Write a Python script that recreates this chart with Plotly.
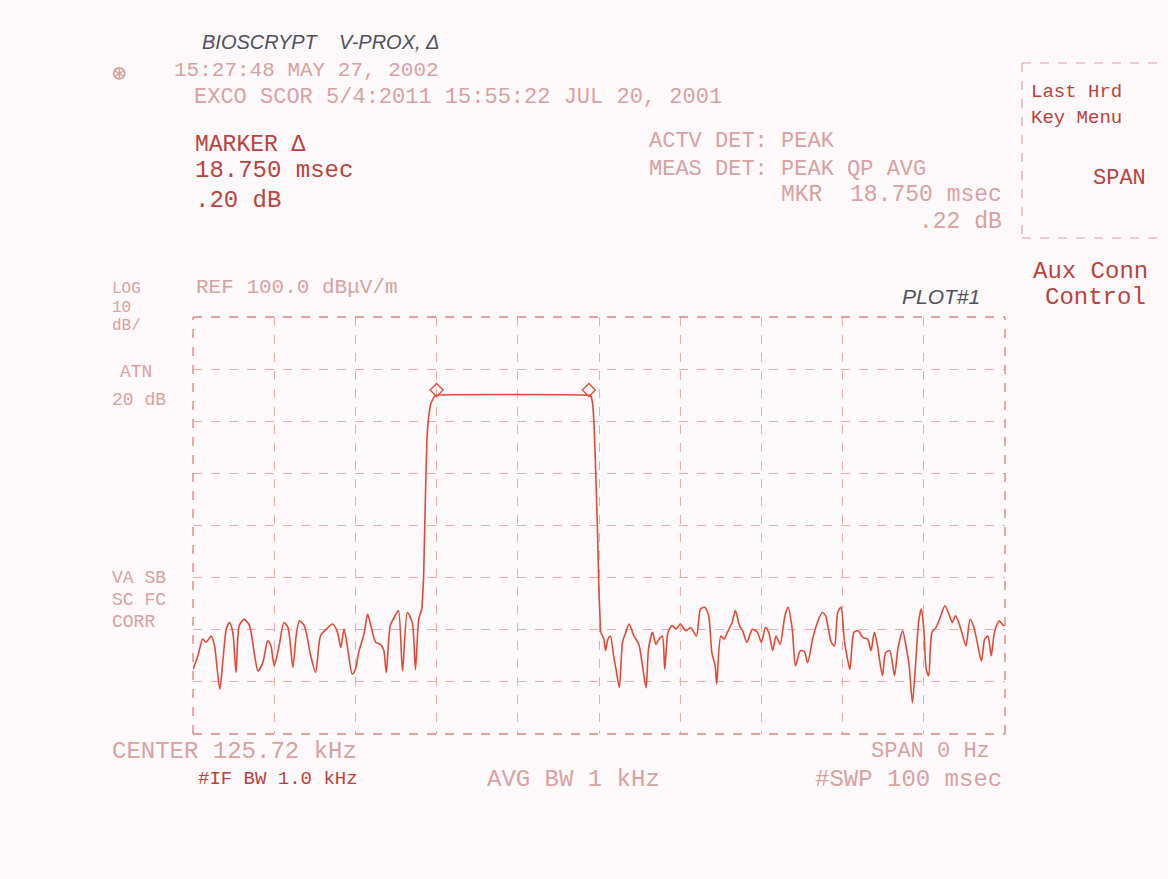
import plotly.graph_objects as go

# ---------------- data ----------------
# Left noise floor (ms, dBuV/m)
noise_left_ms = [0.0, 0.6, 1.2, 1.6, 2.25, 2.65, 3.3, 3.7, 4.1, 4.5, 4.9, 5.3, 5.7, 6.3, 6.95,
                 7.6, 8.0, 8.6, 9.2, 9.6, 10.0, 10.6, 11.2, 11.7, 12.3, 12.7, 13.1, 13.7, 14.5,
                 15.1, 15.7, 16.4, 17.2, 17.8, 18.2, 18.6, 19.0, 19.6, 20.0, 20.4, 21.1, 21.5,
                 21.9, 22.5, 23.1, 23.5, 23.8, 24.3, 24.9, 25.3, 25.8, 26.4, 27.0, 27.4, 27.8]
noise_left_db = [32.4, 35.0, 38.2, 37.6, 38.8, 36.9, 28.6, 34.4, 40.1, 41.4, 39.5, 31.8, 40.8, 42.0, 40.8,
                 35.0, 32.1, 33.7, 37.9, 36.9, 33.1, 36.9, 41.4, 40.4, 32.8, 38.8, 41.7, 40.8, 35.0,
                 31.8, 38.8, 40.1, 41.1, 39.5, 36.6, 40.1, 36.9, 31.5, 32.4, 35.6, 39.5, 43.0,
                 40.8, 37.6, 37.2, 36.0, 31.8, 40.8, 42.7, 43.7, 32.1, 43.3, 41.4, 32.4, 42.0]

# Pulse (rise, flat top, fall)
pulse_ms = [28.2, 28.4, 28.6, 28.8, 29.0, 29.3, 29.7, 30.0, 48.75, 49.0, 49.2, 49.4, 49.6, 49.8, 50.0]
pulse_db = [44.0, 50.0, 64.0, 76.0, 80.5, 83.4, 84.7, 85.0, 85.0, 84.8, 83.5, 79.0, 70.0, 60.0, 47.0]

# Right noise floor
noise_right_ms = [50.2, 50.6, 50.8, 51.1, 51.4, 51.8, 52.1, 52.5, 52.9, 53.3, 53.7, 54.3, 54.9, 55.3,
                  55.8, 56.1, 56.6, 57.0, 57.4, 57.8, 58.1, 58.5, 59.0, 59.5, 60.0, 60.7, 61.3, 62.0,
                  62.5, 63.0, 63.5, 63.9, 64.3, 64.5, 65.0, 65.4, 65.8, 66.4, 66.8, 67.3, 67.7, 68.2,
                  68.9, 69.5, 70.0, 70.5, 70.9, 71.4, 71.8, 72.3, 72.9, 73.3, 73.8, 74.2, 74.8, 75.3,
                  75.7, 76.3, 76.9, 77.5, 77.9, 78.6, 79.0, 79.4, 79.8, 80.2, 80.6, 80.9, 81.4, 81.9,
                  82.5, 83.1, 83.5, 83.9, 84.3, 84.9, 85.3, 85.8, 86.4, 86.8, 87.4, 87.8, 88.2, 88.6,
                  89.0, 89.4, 89.7, 90.0, 90.3, 90.6, 91.0, 91.5, 92.1, 92.6, 93.1, 93.5, 93.9, 94.3,
                  94.8, 95.2, 95.7, 96.1, 96.5, 97.1, 97.5, 97.9, 98.3, 98.7, 99.3, 99.8, 100.0]
noise_right_db = [39.5, 38.2, 36.0, 38.2, 38.8, 35.0, 32.4, 28.9, 37.6, 39.5, 41.1, 38.8, 37.2, 33.7,
                  28.9, 36.3, 39.5, 37.2, 38.2, 38.8, 32.4, 39.5, 40.8, 40.1, 41.1, 39.8, 40.4, 38.8,
                  44.0, 44.3, 42.7, 35.6, 33.1, 29.6, 38.8, 38.2, 39.5, 41.4, 43.7, 40.8, 39.8, 37.6,
                  40.1, 39.5, 37.6, 40.4, 39.5, 36.0, 38.8, 37.2, 42.7, 44.3, 40.1, 33.1, 36.0, 35.8,
                  33.7, 38.2, 41.4, 43.3, 42.7, 37.6, 36.9, 43.3, 44.3, 38.2, 34.4, 32.4, 39.5, 39.8,
                  38.5, 38.2, 36.0, 39.5, 36.9, 31.2, 35.6, 36.0, 31.2, 36.3, 39.8, 36.9, 33.1, 26.0,
                  33.7, 42.0, 44.0, 40.1, 32.4, 31.2, 39.5, 40.4, 42.7, 44.6, 43.0, 41.4, 42.7, 41.4,
                  38.8, 36.9, 42.0, 40.8, 38.2, 34.0, 38.2, 38.8, 35.0, 39.5, 41.7, 40.8, 41.0]

# Delta marker pair
marker_ms = [30.0, 48.75]
marker_db = [86.0, 86.0]

# Axis settings (sweep 100 ms, ref 100 dBuV/m, 10 dB/div, 8 div)
x_ticks = [0, 10, 20, 30, 40, 50, 60, 70, 80, 90, 100]
y_ticks = [20, 30, 40, 50, 60, 70, 80, 90, 100]

# ---------------- figure ----------------
W, H = 1168, 879
L, R, T, B = 193, 1005, 317, 734

TRACE = "#de4b39"
GRID = "#e6adaa"
STRONG = "#b8433f"
FAINT = "#d8a2a2"
BG = "#fdf9fb"


def P(x, y):
    return (x - L) / (R - L), (B - y) / (B - T)


fig = go.Figure()
# noise segments drawn smoothly, pulse drawn with little smoothing
fig.add_trace(go.Scatter(x=noise_left_ms + pulse_ms[:1], y=noise_left_db + pulse_db[:1],
                         mode="lines", line=dict(color=TRACE, width=1.6, shape="spline", smoothing=0.7),
                         hoverinfo="skip", showlegend=False))
fig.add_trace(go.Scatter(x=pulse_ms + noise_right_ms[:1], y=pulse_db + noise_right_db[:1],
                         mode="lines", line=dict(color=TRACE, width=1.6, shape="spline", smoothing=0.3),
                         hoverinfo="skip", showlegend=False))
fig.add_trace(go.Scatter(x=noise_right_ms, y=noise_right_db, mode="lines",
                         line=dict(color=TRACE, width=1.6, shape="spline", smoothing=0.7),
                         hoverinfo="skip", showlegend=False))
fig.add_trace(go.Scatter(x=marker_ms, y=marker_db, mode="markers",
                         marker=dict(symbol="diamond-open", size=10, color=TRACE,
                                     line=dict(width=1.3, color=TRACE)),
                         showlegend=False, hoverinfo="skip"))

fig.update_xaxes(range=[0, 100], tickvals=x_ticks, showticklabels=False,
                 showgrid=True, gridcolor=GRID, griddash="dash", gridwidth=1,
                 zeroline=False, showline=False, ticks="")
fig.update_yaxes(range=[20, 100], tickvals=y_ticks, showticklabels=False,
                 showgrid=True, gridcolor=GRID, griddash="dash", gridwidth=1,
                 zeroline=False, showline=False, ticks="")

shapes = []
# plot frame (dashed like the grid)
for (x0, y0, x1, y1) in [(0, 0, 1, 0), (0, 1, 1, 1), (0, 0, 0, 1), (1, 0, 1, 1)]:
    shapes.append(dict(type="line", xref="paper", yref="paper", x0=x0, y0=y0, x1=x1, y1=y1,
                       line=dict(color="#da827d", width=1.3, dash="dash")))
# softkey box
bx0, by0, bx1, by1 = 1022, 63, 1160, 238
for (a, b, c, d) in [(bx0, by0, bx1, by0), (bx0, by1, bx1, by1), (bx0, by0, bx0, by1)]:
    p0 = P(a, b)
    p1 = P(c, d)
    shapes.append(dict(type="line", xref="paper", yref="paper", x0=p0[0], y0=p0[1],
                       x1=p1[0], y1=p1[1], line=dict(color=FAINT, width=1.2, dash="dash")))

MONO = "Liberation Mono, DejaVu Sans Mono, monospace"
HAND = "Liberation Sans, DejaVu Sans, sans-serif"

texts = [
    # (text, x, y, xanchor, size, color, family)
    ("<i>BIOSCRYPT    V-PROX, Δ</i>", 200, 42, "left", 20, "#505060", HAND),
    ("⊛", 110, 74, "left", 24, FAINT, MONO),
    ("15:27:48 MAY 27, 2002", 172, 71, "left", 21, FAINT, MONO),
    ("EXCO SCOR 5/4:2011 15:55:22 JUL 20, 2001", 192, 98, "left", 22, FAINT, MONO),
    ("MARKER Δ", 193, 145, "left", 23, STRONG, MONO),
    ("18.750 msec", 193, 171, "left", 24, STRONG, MONO),
    (".20 dB", 193, 200, "left", 24, STRONG, MONO),
    ("ACTV DET: PEAK", 647, 142, "left", 22, FAINT, MONO),
    ("MEAS DET: PEAK QP AVG", 647, 169, "left", 22, FAINT, MONO),
    ("MKR  18.750 msec", 1004, 195, "right", 23, FAINT, MONO),
    (".22 dB", 1004, 222, "right", 23, FAINT, MONO),
    ("Last Hrd", 1029, 92, "left", 19, STRONG, MONO),
    ("Key Menu", 1029, 118, "left", 19, STRONG, MONO),
    ("SPAN", 1148, 178, "right", 22, STRONG, MONO),
    ("Aux Conn", 1150, 271, "right", 24, STRONG, MONO),
    ("Control", 1148, 297, "right", 24, STRONG, MONO),
    ("LOG", 110, 289, "left", 16, FAINT, MONO),
    ("10", 110, 308, "left", 16, FAINT, MONO),
    ("dB/", 110, 326, "left", 16, FAINT, MONO),
    ("ATN", 118, 372, "left", 18, FAINT, MONO),
    ("20 dB", 110, 400, "left", 18, FAINT, MONO),
    ("REF 100.0 dBμV/m", 194, 287, "left", 21, FAINT, MONO),
    ("<i>PLOT#1</i>", 900, 296, "left", 21, "#505060", HAND),
    ("VA SB", 110, 578, "left", 18, FAINT, MONO),
    ("SC FC", 110, 600, "left", 18, FAINT, MONO),
    ("CORR", 110, 622, "left", 18, FAINT, MONO),
    ("CENTER 125.72 kHz", 110, 751, "left", 24, FAINT, MONO),
    ("#IF BW 1.0 kHz", 196, 779, "left", 19, STRONG, MONO),
    ("AVG BW 1 kHz", 485, 779, "left", 24, FAINT, MONO),
    ("SPAN 0 Hz", 992, 751, "right", 22, FAINT, MONO),
    ("#SWP 100 msec", 1004, 779, "right", 24, FAINT, MONO),
]

annotations = []
for (t, x, y, xa, s, c, fam) in texts:
    px, py = P(x, y)
    annotations.append(dict(text=t, x=px, y=py, xref="paper", yref="paper",
                            xanchor=xa, yanchor="middle", showarrow=False,
                            font=dict(size=s, color=c, family=fam)))

fig.update_layout(width=W, height=H, margin=dict(l=L, r=W - R, t=T, b=H - B),
                  paper_bgcolor=BG, plot_bgcolor=BG, shapes=shapes,
                  annotations=annotations, showlegend=False)

fig.write_html("out.html", config={"displayModeBar": False},
               post_script="document.body.style.margin='0';document.body.style.overflow='hidden';")
